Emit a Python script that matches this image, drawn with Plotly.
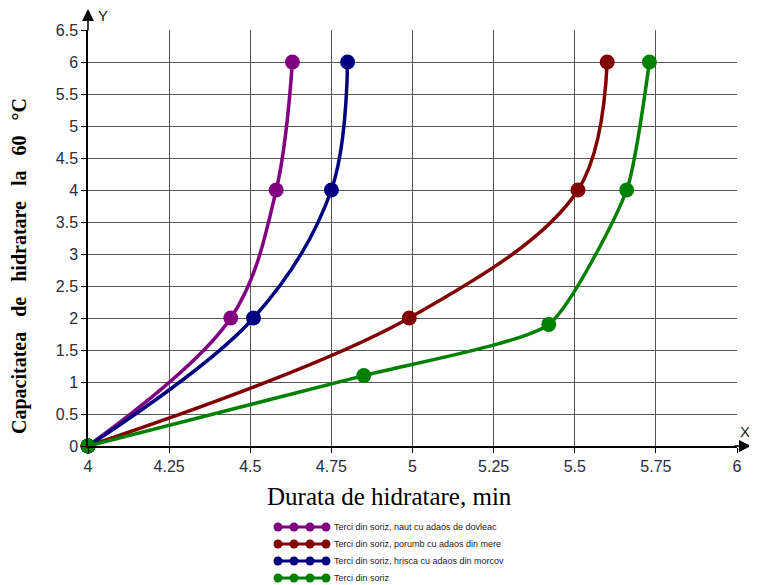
import plotly.graph_objects as go

names = ["Terci din soriz, naut cu adaos de dovleac",
         "Terci din soriz, porumb cu adaos din mere",
         "Terci din soriz, hrisca cu adaos din morcov",
         "Terci din soriz"]
colors = ["#800080", "#800000", "#000080", "#008000"]

x_purple = [4.0, 4.44, 4.58, 4.63]
y_purple = [0, 2, 4, 6]
x_red = [4.0, 4.99, 5.51, 5.60]
y_red = [0, 2, 4, 6]
x_blue = [4.0, 4.51, 4.75, 4.80]
y_blue = [0, 2, 4, 6]
x_green = [4.0, 4.85, 5.42, 5.66, 5.73]
y_green = [0, 1.1, 1.9, 4, 6]

xs = [x_purple, x_red, x_blue, x_green]
ys = [y_purple, y_red, y_blue, y_green]
smooth = [1.0, 1.0, 1.0, 0.55]

xticks = [4, 4.25, 4.5, 4.75, 5, 5.25, 5.5, 5.75, 6]
xticklabels = ["4", "4.25", "4.5", "4.75", "5", "5.25", "5.5", "5.75", "6"]
yticks = [0, 0.5, 1, 1.5, 2, 2.5, 3, 3.5, 4, 4.5, 5, 5.5, 6, 6.5]
yticklabels = ["0", "0.5", "1", "1.5", "2", "2.5", "3", "3.5", "4", "4.5", "5", "5.5", "6", "6.5"]

# layout geometry (page has an 8px body margin)
W, H = 749, 577
ML, MR, MT, MB = 80, 20, 22, 139
PW, PH = W - ML - MR, H - MT - MB


def px_x(xf):
    return (xf - ML) / PW


def px_y(yf):
    return (H - MB - yf) / PH


fig = go.Figure()
for n, c, x, y, s in zip(names, colors, xs, ys, smooth):
    fig.add_trace(go.Scatter(x=x, y=y, name=n, mode="lines+markers",
                             line=dict(color=c, width=3.5, shape="spline", smoothing=s),
                             marker=dict(color=c, size=15),
                             cliponaxis=False, showlegend=False))

fig.update_layout(
    width=W, height=H,
    margin=dict(l=ML, r=MR, t=MT, b=MB, autoexpand=False),
    plot_bgcolor="white", paper_bgcolor="white",
    showlegend=False,
    font=dict(family="Arial"),
)
axis_common = dict(showgrid=True, gridcolor="#555", gridwidth=1,
                   showline=True, linecolor="black", linewidth=1.5,
                   ticks="outside", ticklen=5, tickcolor="black",
                   tickfont=dict(family="Arial", size=16, color="#2a2a40"),
                   zeroline=False)
fig.update_xaxes(range=[4, 6], tickvals=xticks, ticktext=xticklabels, **axis_common)
fig.update_yaxes(range=[0, 6.5], tickvals=yticks, ticktext=yticklabels, **axis_common)

# axis arrows
fig.add_annotation(x=px_x(743), y=0, xref="paper", yref="y", ax=-18, ay=0,
                   axref="pixel", ayref="pixel", text="", showarrow=True,
                   arrowhead=2, arrowsize=1.6, arrowwidth=1.5, arrowcolor="black")
fig.add_annotation(x=px_x(731), y=px_y(423), xref="paper", yref="paper", text="X",
                   showarrow=False, xanchor="left", yanchor="middle", borderpad=0,
                   font=dict(family="Arial", size=15, color="#222"))
fig.add_annotation(x=0, y=px_y(0), xref="paper", yref="paper", ax=0, ay=24,
                   text="", showarrow=True,
                   arrowhead=2, arrowsize=1.6, arrowwidth=1.5, arrowcolor="black")
fig.add_annotation(x=px_x(88), y=px_y(7), xref="paper", yref="paper", text="Y",
                   showarrow=False, xanchor="left", yanchor="middle",
                   font=dict(family="Arial", size=15, color="#222"))

# axis titles
fig.add_annotation(x=px_x(381), y=px_y(489), xref="paper", yref="paper",
                   xanchor="center", yanchor="middle",
                   text="Durata de hidratare, min", showarrow=False,
                   font=dict(family="Liberation Serif, Times New Roman, serif", size=25, color="black"))
sp = "&nbsp;&nbsp; "
ytitle = sp.join(["Capacitatea", "de", "hidratare", "la", "60", "°C"])
fig.add_annotation(x=px_x(11), y=px_y(258), xref="paper", yref="paper", textangle=-90,
                   xanchor="center", yanchor="middle",
                   text="<b>" + ytitle + "</b>", showarrow=False,
                   font=dict(family="Liberation Serif, Times New Roman, serif", size=20, color="black"))

# manual legend (line with four dots, as in the reference)
for i, (n, c) in enumerate(zip(names, colors)):
    yf = 519 + 17 * i
    yp = px_y(yf)
    fig.add_shape(type="line", xref="paper", yref="paper",
                  x0=px_x(267), x1=px_x(318), y0=yp, y1=yp,
                  line=dict(color=c, width=3))
    for k in range(4):
        xc = px_x(270 + 16 * k)
        fig.add_shape(type="circle", xref="paper", yref="paper",
                      xsizemode="pixel", ysizemode="pixel",
                      xanchor=xc, yanchor=yp, x0=-4.5, x1=4.5, y0=-4.5, y1=4.5,
                      fillcolor=c, line=dict(color=c, width=0))
    fig.add_annotation(x=px_x(324), y=yp, xref="paper", yref="paper",
                       xanchor="left", yanchor="middle",
                       text=n, showarrow=False,
                       font=dict(family="Arial", size=9, color="#222"))

fig.write_html("out.html")
